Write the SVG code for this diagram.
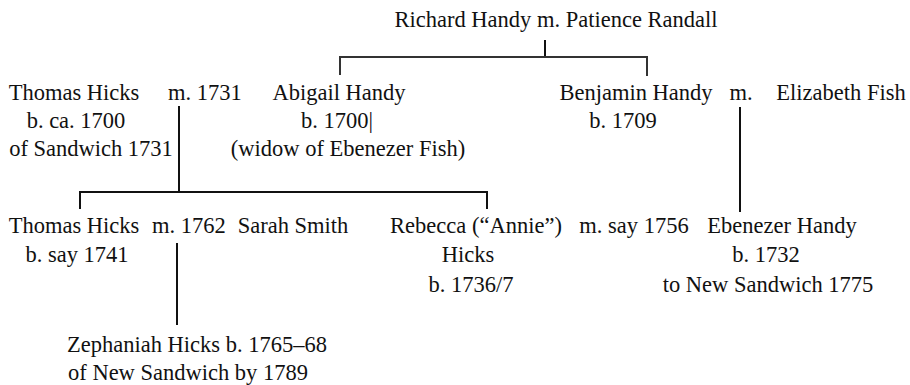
<svg xmlns="http://www.w3.org/2000/svg" width="910" height="385" viewBox="0 0 910 385">
<style>
text{text-anchor:middle;fill:#111}
.c line{stroke:#111;stroke-width:2;fill:none}
</style>
<rect width="910" height="385" fill="#fff"/>
<g class="c" id="connectors">
<line x1="545" y1="40" x2="545" y2="58"/>
<polyline points="340,75 340,57 647,57 647,76" style="stroke:#333;stroke-width:2;fill:none"/>
<line x1="179" y1="106" x2="179" y2="192"/>
<polyline points="80,209 80,192 487,192 487,209" style="stroke:#111;stroke-width:2;fill:none"/>
<line x1="740" y1="107" x2="740" y2="212"/>
<line x1="177" y1="243" x2="177" y2="325"/>
</g>
<g font-family="Liberation Serif" font-size="22.5">
<g id="richard"><text x="556" y="27">Richard Handy m. Patience Randall</text></g>
<g id="thomas1"><text x="74" y="100">Thomas Hicks</text><text x="76" y="128">b. ca. 1700</text><text x="91" y="156">of Sandwich 1731</text></g>
<g id="m1731"><text x="205" y="100">m. 1731</text></g>
<g id="abigail"><text x="339" y="100">Abigail Handy</text><text x="337" y="128">b. 1700|</text><text x="348" y="156">(widow of Ebenezer Fish)</text></g>
<g id="benjamin"><text x="636" y="100">Benjamin Handy</text><text x="623" y="128">b. 1709</text></g>
<g id="mbf"><text x="741" y="100">m.</text></g>
<g id="elizabeth"><text x="841" y="100">Elizabeth Fish</text></g>
<g id="thomas2"><text x="74" y="233">Thomas Hicks</text><text x="77" y="262">b. say 1741</text></g>
<g id="m1762"><text x="189" y="233">m. 1762</text></g>
<g id="sarah"><text x="293" y="233">Sarah Smith</text></g>
<g id="rebecca"><text x="476" y="233">Rebecca (“Annie”)</text><text x="468" y="262">Hicks</text><text x="471" y="292">b. 1736/7</text></g>
<g id="m1756"><text x="634" y="233">m. say 1756</text></g>
<g id="ebenezer"><text x="782" y="233">Ebenezer Handy</text><text x="766" y="262">b. 1732</text><text x="768" y="292">to New Sandwich 1775</text></g>
<g id="zephaniah"><text x="197" y="352">Zephaniah Hicks b. 1765–68</text><text x="188" y="380">of New Sandwich by 1789</text></g>
</g>
</svg>
